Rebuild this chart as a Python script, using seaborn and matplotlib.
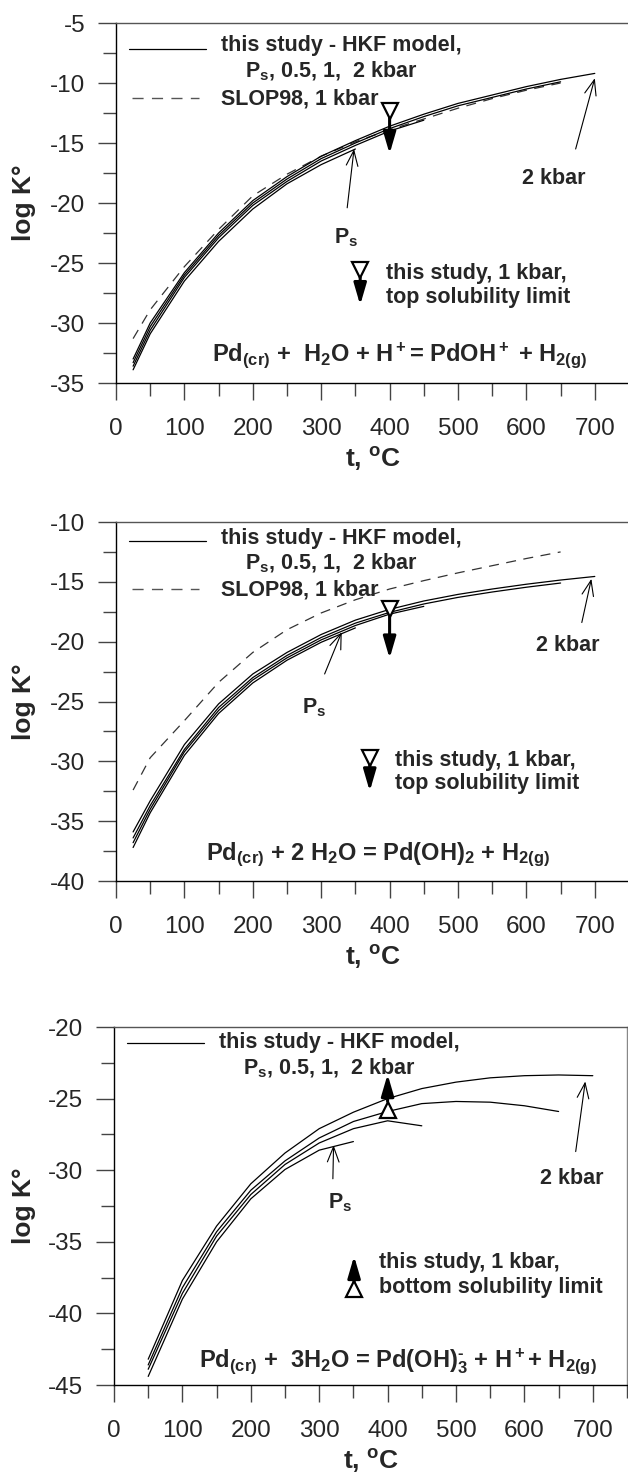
import matplotlib
matplotlib.use("Agg")
import matplotlib.pyplot as plt
from matplotlib.ticker import MultipleLocator
import seaborn as sns
import pandas as pd

# ---------------- data ----------------
T_full = [25, 50, 100, 150, 200, 250, 300, 350, 400, 450, 500, 550, 600, 650, 700]
T3_full = [50, 100, 150, 200, 250, 300, 350, 400, 450, 500, 550, 600, 650, 700]

# Panel 1: Pd(cr) + H2O + H+ = PdOH+ + H2(g)
p1_2kbar = [-33.0, -30.0, -25.8, -22.5, -19.8, -17.8, -16.1, -14.8, -13.6, -12.6, -11.7, -11.0, -10.3, -9.7, -9.2]
p1_1kbar = [-33.3, -30.3, -26.0, -22.7, -20.0, -18.0, -16.3, -15.0, -13.8, -12.8, -11.9, -11.2, -10.5, -9.9]
p1_05kbar = [-33.6, -30.6, -26.2, -22.9, -20.2, -18.2, -16.5, -15.2, -14.0, -13.1]
p1_Ps = [-33.9, -30.9, -26.5, -23.2, -20.5, -18.4, -16.8, -15.5]
p1_slop = [-31.3, -28.9, -25.3, -22.2, -19.4, -17.6, -16.1, -14.9, -13.9, -13.0, -12.1, -11.3, -10.6, -10.0]
p1_limit = (400, -12.3)

# Panel 2: Pd(cr) + 2 H2O = Pd(OH)2 + H2(g)
p2_2kbar = [-35.9, -33.3, -28.6, -25.2, -22.7, -20.9, -19.4, -18.2, -17.3, -16.6, -16.05, -15.6, -15.2, -14.85, -14.55]
p2_1kbar = [-36.4, -33.7, -29.0, -25.5, -23.0, -21.15, -19.65, -18.45, -17.55, -16.85, -16.3, -15.85, -15.45, -15.1]
p2_05kbar = [-36.8, -34.0, -29.2, -25.75, -23.2, -21.35, -19.85, -18.65, -17.7, -17.05]
p2_Ps = [-37.2, -34.3, -29.5, -26.0, -23.45, -21.55, -20.05, -18.85]
p2_slop = [-32.4, -29.7, -26.6, -23.4, -20.9, -19.0, -17.6, -16.5, -15.6, -14.9, -14.25, -13.65, -13.05, -12.5]
p2_limit = (400, -17.3)

# Panel 3: Pd(cr) + 3H2O = Pd(OH)3- + H+ + H2(g)
p3_2kbar = [-43.2, -37.7, -33.9, -30.95, -28.8, -27.1, -25.95, -25.0, -24.3, -23.85, -23.55, -23.4, -23.35, -23.4]
p3_1kbar = [-43.6, -38.2, -34.3, -31.4, -29.35, -27.75, -26.6, -25.9, -25.35, -25.2, -25.25, -25.5, -25.9]
p3_05kbar = [-43.9, -38.6, -34.6, -31.7, -29.6, -28.1, -27.1, -26.55, -26.9]
p3_Ps = [-44.4, -39.0, -35.0, -32.0, -29.95, -28.6, -28.0]
p3_limit = (400, -25.8)

x_ticks = [0, 100, 200, 300, 400, 500, 600, 700]
ylims = [(-35, -5), (-40, -10), (-45, -20)]

# ---------------- style ----------------
sns.set_theme(style="ticks")
plt.rcParams["font.family"] = ["Liberation Sans", "DejaVu Sans"]
plt.rcParams["mathtext.fontset"] = "custom"
plt.rcParams["mathtext.rm"] = "Liberation Sans:bold"
plt.rcParams["mathtext.it"] = "Liberation Sans:bold"
plt.rcParams["mathtext.bf"] = "Liberation Sans:bold"
plt.rcParams["mathtext.default"] = "bf"
plt.rcParams["axes.unicode_minus"] = False

W, H = 628, 1474
fig = plt.figure(figsize=(W / 100, H / 100), dpi=100)
fig.patch.set_facecolor("white")

# axes boxes in pixels: (left, top, right, bottom)
boxes = [(116, 23, 629, 383), (116, 522, 629, 881), (114, 1027, 627, 1385)]

TICK_FS = 17.5
ANN_FS = 15.5
LAB_FS = 19
RX_FS = 17


def make_ax(box):
    l, t, r, b = box
    ax = fig.add_axes([l / W, 1 - b / H, (r - l) / W, (b - t) / H])
    ax.set_facecolor("white")
    for s in ax.spines.values():
        s.set_linewidth(1.0)
        s.set_color("black")
    ax.spines["top"].set_color("#555555")
    ax.spines["right"].set_color("#888888")
    ax.set_xlim(0, 750)
    ax.xaxis.set_major_locator(MultipleLocator(100))
    ax.xaxis.set_minor_locator(MultipleLocator(50))
    ax.yaxis.set_major_locator(MultipleLocator(5))
    ax.yaxis.set_minor_locator(MultipleLocator(2.5))
    ax.tick_params(axis="y", which="major", direction="out", length=13, width=1.0,
                   labelsize=TICK_FS, pad=9, color="#444444")
    ax.tick_params(axis="y", which="minor", direction="out", length=9.5, width=1.0, color="#444444")
    ax.tick_params(axis="x", which="major", direction="out", length=12.5, width=1.0,
                   labelsize=TICK_FS, pad=13, color="#444444")
    ax.tick_params(axis="x", which="minor", direction="out", length=9, width=1.0, color="#444444")
    ax.set_xticks(x_ticks)
    ax.set_xlabel("t, $^o$C", fontsize=LAB_FS, fontweight="bold", labelpad=3)
    ax.set_ylabel("log K°", fontsize=LAB_FS, fontweight="bold")
    ax.yaxis.set_label_coords((36 - l) / (r - l), 0.5)
    ax.grid(False)
    return ax


def curve(ax, xs, ys, dashed=False):
    df = pd.DataFrame({"t": xs, "logK": ys})
    kw = dict(color="#333333", lw=0.9, dashes=(8, 6)) if dashed else dict(color="black", lw=0.9)
    sns.lineplot(data=df, x="t", y="logK", ax=ax, estimator=None, sort=False, **kw)


def thin_arrow(ax, start, end):
    ax.annotate("", xy=end, xytext=start,
                arrowprops=dict(arrowstyle="->,head_length=1.1,head_width=0.42",
                                mutation_scale=10, lw=0.8, color="black",
                                shrinkA=0, shrinkB=0))


def thick_arrow(ax, start, end):
    ax.annotate("", xy=end, xytext=start,
                arrowprops=dict(arrowstyle="-|>,head_length=1.3,head_width=0.38",
                                mutation_scale=10, lw=2.2, color="black",
                                shrinkA=0, shrinkB=0))


def tri(ax, x, y, up):
    ax.plot([x], [y], marker="^" if up else "v", ms=12, mfc="white", mec="black", mew=1.6,
            linestyle="none", zorder=5)


def legend_block(ax, ys, dashed_y=None, slop_y=None):
    y_solid, y_t1, y_t2 = ys
    ax.plot([19, 132], [y_solid, y_solid], color="black", lw=0.9)
    ax.text(154, y_t1, "this study - HKF model,", fontsize=ANN_FS, fontweight="bold", va="center", ha="left")
    ax.text(188, y_t2, "P$_s$, 0.5, 1,  2 kbar", fontsize=ANN_FS, fontweight="bold", va="center", ha="left")
    if dashed_y is not None:
        ax.plot([23, 121], [dashed_y, dashed_y], color="#555555", lw=1.0, dashes=(8, 6))
        ax.text(154, slop_y, "SLOP98, 1 kbar", fontsize=ANN_FS, fontweight="bold", va="center", ha="left")


axes = [make_ax(b) for b in boxes]
for ax, yl in zip(axes, ylims):
    ax.set_ylim(*yl)

# ---------- panel 1 ----------
ax = axes[0]
curve(ax, T_full[:len(p1_slop)], p1_slop, dashed=True)
curve(ax, T_full, p1_2kbar)
curve(ax, T_full[:len(p1_1kbar)], p1_1kbar)
curve(ax, T_full[:len(p1_05kbar)], p1_05kbar)
curve(ax, T_full[:len(p1_Ps)], p1_Ps)
legend_block(ax, (-7.15, -6.85, -9.0), dashed_y=-11.25, slop_y=-11.3)
tri(ax, p1_limit[0], p1_limit[1], up=False)
thick_arrow(ax, (400, -12.9), (400, -15.9))
thin_arrow(ax, (338, -20.4), (348, -15.5))
ax.text(336, -22.9, "P$_s$", fontsize=ANN_FS, fontweight="bold", ha="center", va="center")
thin_arrow(ax, (672, -15.5), (700, -9.6))
ax.text(640, -18.0, "2 kbar", fontsize=ANN_FS, fontweight="bold", ha="center", va="center")
tri(ax, 357, -25.6, up=False)
thick_arrow(ax, (357, -26.2), (357, -28.5))
ax.text(395, -25.85, "this study, 1 kbar,", fontsize=ANN_FS, fontweight="bold", ha="left", va="center")
ax.text(395, -27.85, "top solubility limit", fontsize=ANN_FS, fontweight="bold", ha="left", va="center")
ax.text(415, -32.7, "Pd$_{(cr)}$ +  H$_2$O + H$^+$= PdOH$^+$ + H$_{2(g)}$",
        fontsize=RX_FS, fontweight="bold", ha="center", va="center")

# ---------- panel 2 ----------
ax = axes[1]
curve(ax, T_full[:len(p2_slop)], p2_slop, dashed=True)
curve(ax, T_full, p2_2kbar)
curve(ax, T_full[:len(p2_1kbar)], p2_1kbar)
curve(ax, T_full[:len(p2_05kbar)], p2_05kbar)
curve(ax, T_full[:len(p2_Ps)], p2_Ps)
legend_block(ax, (-11.55, -11.4, -13.5), dashed_y=-15.6, slop_y=-15.7)
tri(ax, p2_limit[0], p2_limit[1], up=False)
thick_arrow(ax, (400, -17.9), (400, -21.4))
thin_arrow(ax, (305, -22.7), (330, -19.2))
ax.text(290, -25.5, "P$_s$", fontsize=ANN_FS, fontweight="bold", ha="center", va="center")
thin_arrow(ax, (681, -18.4), (695, -14.75))
ax.text(661, -20.35, "2 kbar", fontsize=ANN_FS, fontweight="bold", ha="center", va="center")
tri(ax, 371, -29.7, up=False)
thick_arrow(ax, (371, -30.3), (371, -32.5))
ax.text(408, -29.9, "this study, 1 kbar,", fontsize=ANN_FS, fontweight="bold", ha="left", va="center")
ax.text(408, -31.85, "top solubility limit", fontsize=ANN_FS, fontweight="bold", ha="left", va="center")
ax.text(383, -37.85, "Pd$_{(cr)}$ + 2 H$_2$O = Pd(OH)$_2$ + H$_{2(g)}$",
        fontsize=RX_FS, fontweight="bold", ha="center", va="center")

# ---------- panel 3 ----------
ax = axes[2]
curve(ax, T3_full, p3_2kbar)
curve(ax, T3_full[:len(p3_1kbar)], p3_1kbar)
curve(ax, T3_full[:len(p3_05kbar)], p3_05kbar)
curve(ax, T3_full[:len(p3_Ps)], p3_Ps)
legend_block(ax, (-21.15, -21.05, -22.9))
tri(ax, p3_limit[0], p3_limit[1], up=True)
thick_arrow(ax, (400, -25.2), (400, -23.3))
thin_arrow(ax, (320, -30.6), (321, -28.25))
ax.text(330, -32.25, "P$_s$", fontsize=ANN_FS, fontweight="bold", ha="center", va="center")
thin_arrow(ax, (675, -28.7), (689, -23.8))
ax.text(669, -30.6, "2 kbar", fontsize=ANN_FS, fontweight="bold", ha="center", va="center")
thick_arrow(ax, (351, -37.8), (351, -36.0))
tri(ax, 351, -38.3, up=True)
ax.text(387, -36.45, "this study, 1 kbar,", fontsize=ANN_FS, fontweight="bold", ha="left", va="center")
ax.text(387, -38.2, "bottom solubility limit", fontsize=ANN_FS, fontweight="bold", ha="left", va="center")
ax.text(415, -43.3, "Pd$_{(cr)}$ +  3H$_2$O = Pd(OH)$_3^{\u2010}$ + H$^+$+ H$_{2(g)}$",
        fontsize=RX_FS, fontweight="bold", ha="center", va="center")

fig.savefig("out.png", dpi=100, facecolor="white")
